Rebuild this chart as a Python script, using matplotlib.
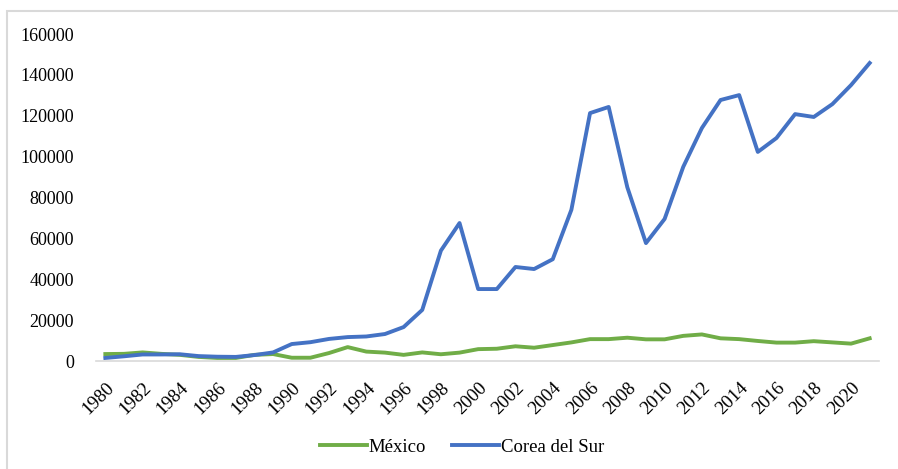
import matplotlib
matplotlib.use("Agg")
from matplotlib import pyplot as plt
from matplotlib.patches import Rectangle

# years and values
years = list(range(1980, 2022))
mexico = [3400, 3500, 4200, 3500, 3000, 2000, 1500, 1500, 3000, 3400,
          1600, 1600, 3900, 6800, 4600, 4100, 3000, 4200, 3300, 4100,
          5800, 6000, 7200, 6500, 7800, 9100, 10700, 10700, 11400, 10600,
          10600, 12300, 13000, 11100, 10700, 9800, 9000, 9000, 9700, 9100,
          8500, 11100]
corea = [1500, 2300, 3200, 3200, 3300, 2400, 2100, 2000, 2900, 4200,
         8300, 9200, 10800, 11700, 12000, 13200, 16600, 25000, 54000, 67500,
         35200, 35200, 46000, 45000, 49800, 74000, 121300, 124300, 85000, 57700,
         69500, 95000, 114000, 127700, 130100, 102300, 109100, 120800, 119400, 125700,
         135000, 145800]
yticks = [0, 20000, 40000, 60000, 80000, 100000, 120000, 140000, 160000]

plt.rcParams['font.family'] = ['Liberation Serif', 'DejaVu Serif']

fig = plt.figure(figsize=(8.98, 4.69), dpi=100)
ax = fig.add_axes([96/898, 1-361/469, (879-96)/898, (361-34)/469])

x = list(range(len(years)))
ax.plot(x, mexico, color='#70AD47', lw=2.8, label='México', solid_joinstyle='round')
ax.plot(x, corea, color='#4472C4', lw=2.8, label='Corea del Sur', solid_joinstyle='round')

ax.set_xlim(-0.5, len(years) - 0.5)
ax.set_ylim(0, 160000)
ax.set_yticks(yticks)
ax.set_yticklabels([str(v) for v in yticks], fontsize=13)
ax.set_xticks(x[::2])
ax.set_xticklabels([str(y) for y in years[::2]], rotation=45, ha='right',
                   rotation_mode='anchor', fontsize=13.5)
ax.tick_params(axis='both', length=0)
ax.tick_params(axis='y', pad=16)
ax.tick_params(axis='x', pad=13)

for s in ['top', 'right', 'left']:
    ax.spines[s].set_visible(False)
ax.spines['bottom'].set_color('#d9d9d9')
ax.spines['bottom'].set_linewidth(1.2)
ax.patch.set_alpha(0)

# chart frame, cut off at right and bottom
fig.patches.append(Rectangle((7/898, -0.1), 1.1, 1 - 11/469 + 0.1,
                             transform=fig.transFigure, fill=False,
                             edgecolor='#d9d9d9', lw=1.5))

fig.legend(loc='center', bbox_to_anchor=(462/898, 1-447/469), ncol=2,
           frameon=False, fontsize=13.5, handlelength=2.5, columnspacing=1.4,
           handletextpad=0.1)

plt.savefig('out.png', dpi=100)
